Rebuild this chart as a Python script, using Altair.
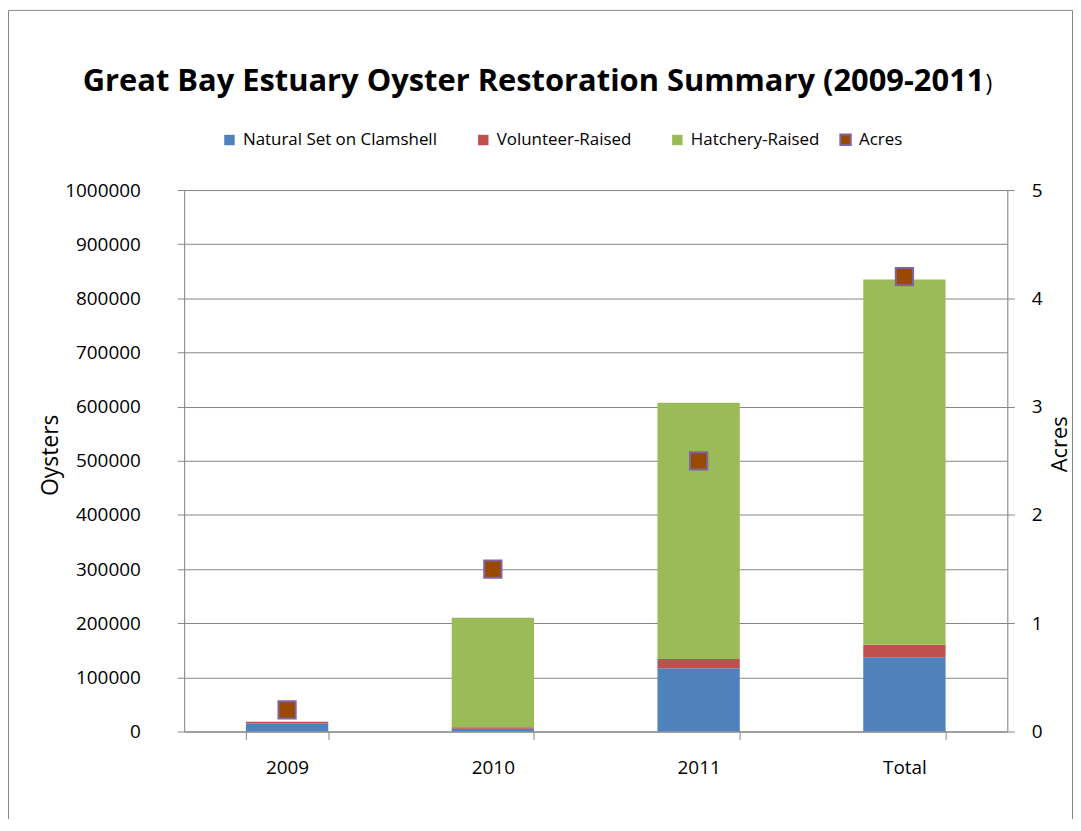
import altair as alt
import pandas as pd

categories = ["2009", "2010", "2011", "Total"]
natural = [15000, 5000, 117000, 137000]
volunteer = [3000, 3000, 17000, 23000]
hatchery = [0, 202000, 473000, 675000]
acres = [0.2, 1.5, 2.5, 4.2]
series = ["Natural Set on Clamshell", "Volunteer-Raised", "Hatchery-Raised"]
oyster_ticks = list(range(0, 1000001, 100000))
acre_ticks = [0, 1, 2, 3, 4, 5]
title_main = "Great Bay Estuary Oyster Restoration Summary (2009-2011"
title_tail = ")"

rows = []
for i, c in enumerate(categories):
    for j, (s, vals) in enumerate(zip(series, [natural, volunteer, hatchery])):
        rows.append({"year": c, "series": s, "order": j, "oysters": vals[i]})
bars_df = pd.DataFrame(rows)
acres_df = pd.DataFrame({"year": categories, "acres": acres})

FONT = "Open Sans"
GRID = "#868686"
color_scale = alt.Scale(domain=series, range=["#4F81BD", "#C0504D", "#9BBB59"])
fill_scale = alt.Scale(domain=["Acres"], range=["#9A4A00"])

x_enc = alt.X("year:N", sort=categories,
              scale=alt.Scale(paddingInner=0.6, paddingOuter=0.3),
              axis=alt.Axis(title=None, labelAngle=0, tickBand="extent", tickSize=8,
                            labelPadding=19, domainColor=GRID, tickColor=GRID,
                            labelFontSize=19, grid=False, labelColor="#000"))

bars = alt.Chart(bars_df).mark_bar().encode(
    x=x_enc,
    y=alt.Y("oysters:Q", stack="zero",
            scale=alt.Scale(domain=[0, 1000000], nice=False),
            axis=alt.Axis(values=oyster_ticks, format="d", title="Oysters",
                          titleFontSize=23, titleFontWeight="normal", titleX=-134, titleY=266,
                          titleAngle=270, titleBaseline="middle",
                          labelFontSize=19, labelPadding=37, tickSize=7,
                          grid=True, gridColor=GRID, domainColor=GRID, tickColor=GRID,
                          labelColor="#000", titleColor="#000")),
    color=alt.Color("series:N", scale=color_scale,
                    legend=alt.Legend(title=None, orient="none", legendX=37, legendY=-59,
                                      direction="horizontal", symbolType="square",
                                      symbolSize=110, labelFontSize=17, labelFont=FONT,
                                      columnPadding=37, labelOffset=5, labelColor="#000",
                                      labelLimit=400, symbolStrokeWidth=0)),
    order=alt.Order("order:Q"),
)

pts = alt.Chart(acres_df).transform_calculate(kind="'Acres'").mark_square(
    size=300, stroke="#8064A2", strokeWidth=2, opacity=1).encode(
    x=x_enc,
    y=alt.Y("acres:Q", scale=alt.Scale(domain=[0, 5], nice=False),
            axis=alt.Axis(orient="right", values=acre_ticks, title="Acres",
                          titleFontSize=22, titleFontWeight="normal", titleX=52, titleY=255,
                          titleAngle=270, titleBaseline="middle",
                          labelFontSize=19, labelPadding=17, tickSize=7, grid=False,
                          domainColor=GRID, tickColor=GRID, labelColor="#000", titleColor="#000")),
    fill=alt.Fill("kind:N", scale=fill_scale,
                  legend=alt.Legend(title=None, orient="none", legendX=656, legendY=-59,
                                    symbolType="square", symbolSize=110, labelFontSize=17,
                                    labelFont=FONT, labelOffset=5, labelColor="#000",
                                    symbolStrokeColor="#8064A2", symbolStrokeWidth=2)),
)

title_a = alt.Chart(alt.Data(values=[{"t": title_main}])).mark_text(
    font=FONT, fontSize=31, fontWeight="bold", align="right", baseline="alphabetic", color="#000"
).encode(x=alt.value(804), y=alt.value(-100), text="t:N")
title_b = alt.Chart(alt.Data(values=[{"t": title_tail}])).mark_text(
    font=FONT, fontSize=23, align="left", baseline="alphabetic", color="#000"
).encode(x=alt.value(805), y=alt.value(-100), text="t:N")

frame = alt.Chart(alt.Data(values=[{}])).mark_rect(fill="transparent", stroke=GRID, strokeWidth=1).encode(
    x=alt.value(-176.5), x2=alt.value(892.5), y=alt.value(-180.5), y2=alt.value(700))

chart = alt.layer(bars, pts, title_a, title_b, frame).resolve_scale(y="independent").properties(
    width=827, height=544,
    padding={"left": 177, "top": 181, "right": 66, "bottom": 86},
    autosize=alt.AutoSizeParams(type="none"),
).configure_view(stroke=None).configure(font=FONT).configure_axis(labelFont=FONT, titleFont=FONT)

chart.save("out.html", embed_options={"renderer": "svg", "actions": False})
